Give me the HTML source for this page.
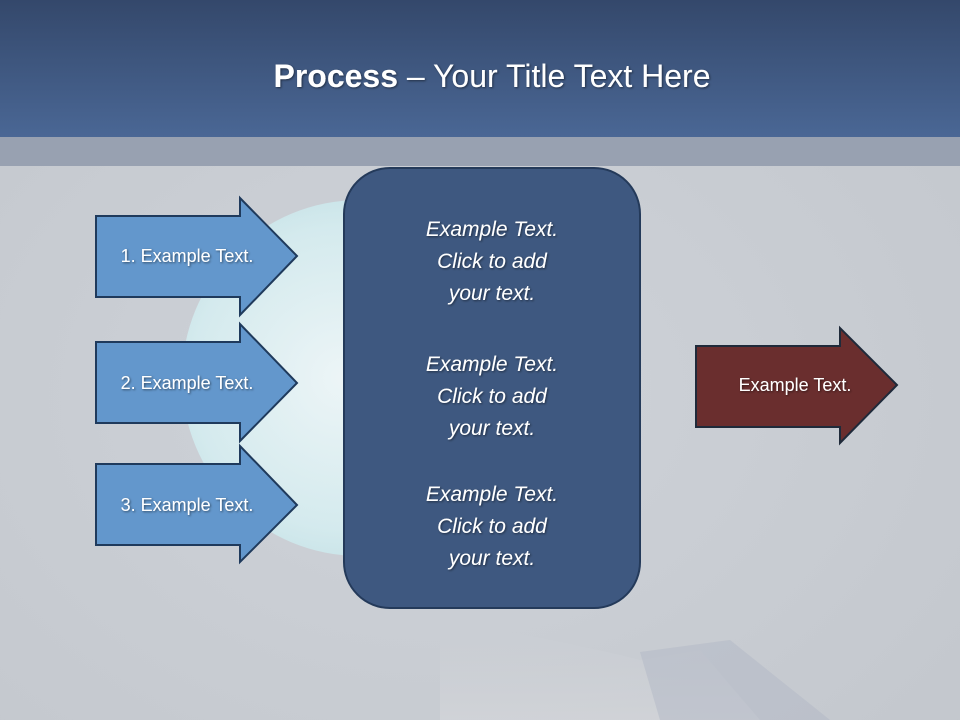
<!DOCTYPE html>
<html><head><meta charset="utf-8"><style>
body{margin:0;width:960px;height:720px;overflow:hidden;font-family:"Liberation Sans",sans-serif}
</style></head><body>
<svg width="960" height="720" xmlns="http://www.w3.org/2000/svg">
<defs>
<linearGradient id="hd" x1="0" y1="0" x2="0" y2="1"><stop offset="0" stop-color="#34486b"/><stop offset="1" stop-color="#4a6795"/></linearGradient>
<radialGradient id="bg" cx="0.45" cy="0.55" r="0.8"><stop offset="0" stop-color="#cfd3d9"/><stop offset="1" stop-color="#c2c6cc"/></radialGradient>
<radialGradient id="gl" cx="0.45" cy="0.5" r="0.6"><stop offset="0" stop-color="#f2fbfc"/><stop offset="0.7" stop-color="#d6eff2"/><stop offset="1" stop-color="#bfe2e7"/></radialGradient>
<linearGradient id="hand" x1="0" y1="0" x2="0" y2="1"><stop offset="0" stop-color="#cfd2d7" stop-opacity="0"/><stop offset="1" stop-color="#d4d6da"/></linearGradient>
<filter id="sh"><feDropShadow dx="1" dy="1" stdDeviation="1" flood-color="#000" flood-opacity="0.5"/></filter>
</defs>
<rect width="960" height="720" fill="url(#bg)"/>
<rect y="0" width="960" height="137" fill="url(#hd)"/>
<rect y="137" width="960" height="29" fill="#98a1b1"/>
<text x="492" y="87" text-anchor="middle" fill="#fff" font-size="32" filter="url(#sh)"><tspan font-weight="bold">Process</tspan> – Your Title Text Here</text>
<circle cx="360" cy="378" r="178" fill="url(#gl)" opacity="0.85"/>
<path d="M440 620 Q560 640 640 660 L700 650 L760 720 L440 720 Z" fill="url(#hand)" opacity="0.7"/>
<path d="M640 652 L730 640 L830 720 L660 720 Z" fill="#b1b7c5" opacity="0.5"/>
<g fill="#6397cc" stroke="#1f3a5c" stroke-width="2">
<polygon points="96,216 240,216 240,198 297,256 240,315 240,297 96,297"/>
<polygon points="96,342 240,342 240,324 297,383 240,441 240,423 96,423"/>
<polygon points="96,464 240,464 240,446 297,505 240,562 240,545 96,545"/>
</g>
<g fill="#fff" font-size="18" text-anchor="middle" filter="url(#sh)">
<text x="187" y="262">1. Example Text.</text>
<text x="187" y="389">2. Example Text.</text>
<text x="187" y="511">3. Example Text.</text>
</g>
<rect x="344" y="168" width="296" height="440" rx="46" fill="#3e5880" stroke="#243a5a" stroke-width="2"/>
<g fill="#fff" font-size="21" font-style="italic" text-anchor="middle" filter="url(#sh)">
<text x="492" y="236">Example Text.</text><text x="492" y="268">Click  to add</text><text x="492" y="300">your text.</text>
<text x="492" y="371">Example Text.</text><text x="492" y="403">Click  to add</text><text x="492" y="435">your text.</text>
<text x="492" y="501">Example Text.</text><text x="492" y="533">Click  to add</text><text x="492" y="565">your text.</text>
</g>
<polygon points="696,346 840,346 840,328 897,385 840,443 840,427 696,427" fill="#6a2e2e" stroke="#1f2a3a" stroke-width="2"/>
<text x="795" y="391" fill="#fff" font-size="18" text-anchor="middle" filter="url(#sh)">Example Text.</text>
</svg>
</body></html>
